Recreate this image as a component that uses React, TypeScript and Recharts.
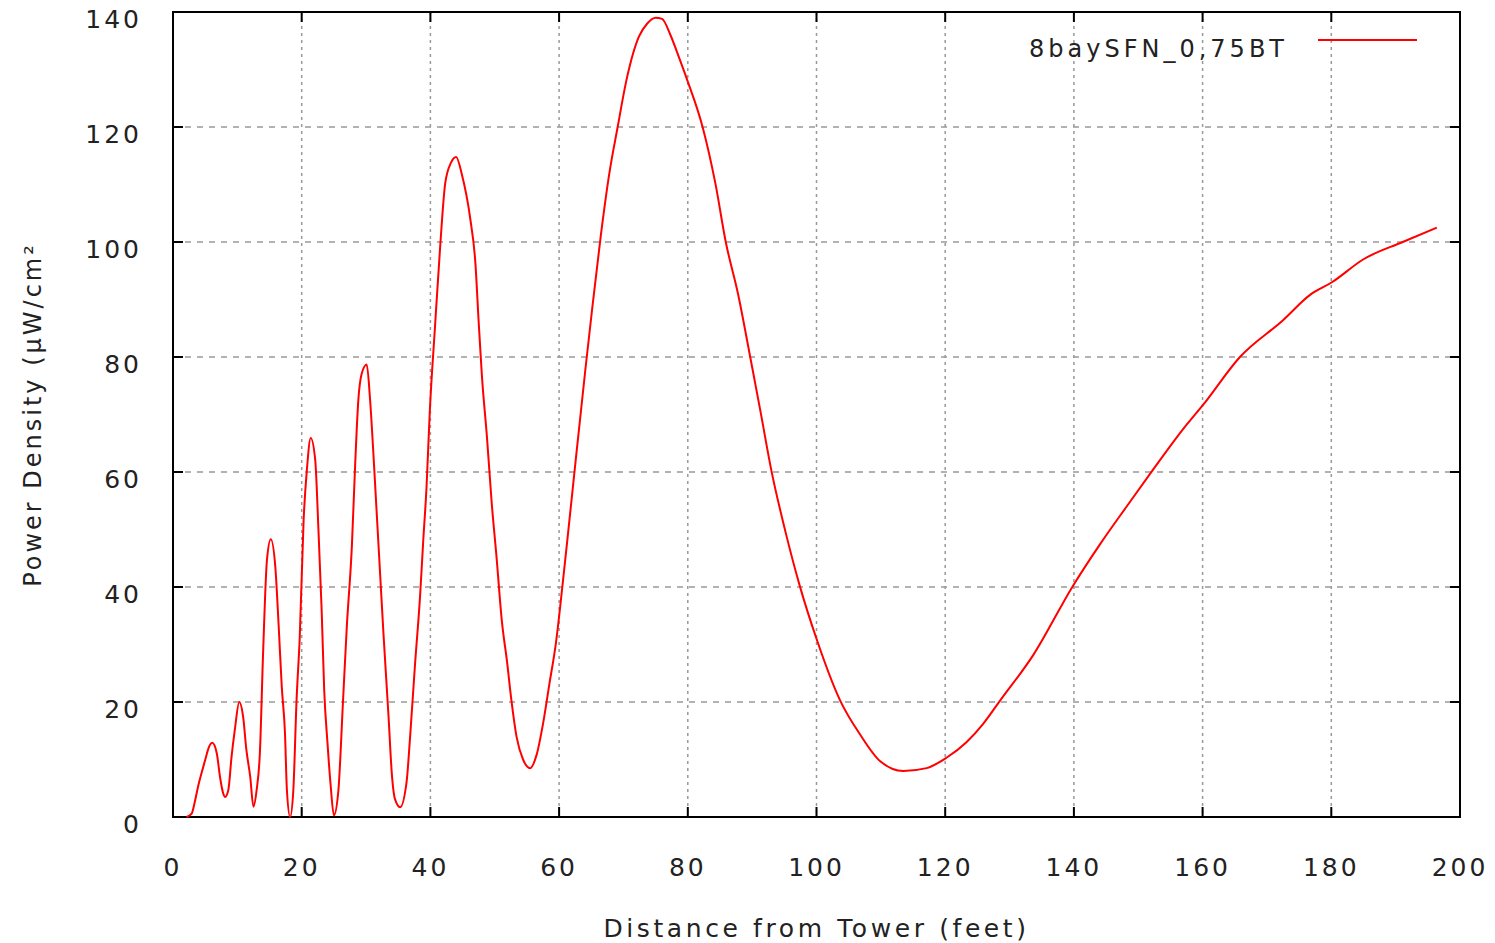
import React from "react";
import {
  LineChart,
  Line,
  XAxis,
  YAxis,
  CartesianGrid,
  ReferenceArea,
} from "recharts";

// distance from tower (feet) and power density
const distance = [
  2.1, 2.9, 3.4, 3.9, 4.5, 5.0, 5.5, 6.1, 6.8, 7.3, 7.8, 8.1, 8.6, 9.1, 9.6,
  10.3, 10.9, 11.4, 12.0, 12.5, 13.0, 13.5, 14.0, 14.6, 15.2, 15.9, 16.4, 16.9,
  17.4, 17.7, 18.2, 18.7, 19.2, 19.7, 20.3, 20.8, 21.4, 22.1, 22.6, 23.1, 23.5,
  24.0, 24.5, 25.0, 25.7, 26.4, 27.0, 27.8, 28.3, 28.8, 29.3, 30.1, 30.6, 31.1,
  31.6, 32.2, 32.7, 33.5, 34.0, 34.5, 35.3, 36.3, 36.8, 37.6, 38.4, 38.9, 39.4,
  39.9, 40.7, 41.5, 42.3, 43.2, 44.0, 44.9, 46.2, 47.0, 47.5, 48.0, 48.8, 49.5,
  50.3, 51.1, 51.9, 52.6, 53.4, 54.4, 55.5, 56.5, 57.5, 58.5, 59.5, 60.5, 61.5,
  62.6, 64.1, 65.1, 66.5, 67.8, 69.1, 70.4, 72.4, 73.7, 75.0, 76.0, 77.3, 78.6,
  79.9, 82.3, 84.3, 85.9, 87.8, 89.7, 91.3, 93.0, 95.2, 97.4, 100.0, 103.7,
  106.8, 109.9, 113.5, 117.1, 120.2, 123.3, 125.9, 128.5, 133.7, 139.8, 144.1,
  148.2, 152.3, 157.0, 160.1, 165.8, 172.5, 176.7, 180.1, 185.0, 191.1, 196.4,
];

const density = [
  0, 0.6, 2.7, 5.3, 7.9, 9.9, 11.9, 12.9, 11.1, 7.0, 4.1, 3.5, 4.7, 10.5, 15.1,
  20.0, 17.4, 11.7, 7.0, 1.8, 4.7, 11.1, 28.5, 44.7, 48.3, 43.5, 33.7, 22.7,
  14.6, 4.7, 0, 4.7, 20.3, 31.4, 51.7, 60.3, 65.9, 62.1, 50.0, 36.0, 22.0,
  13.0, 5.5, 0.3, 4.6, 19.7, 32.9, 47.2, 61.1, 72.5, 77.0, 78.7, 73.0, 64.0,
  54.0, 42.0, 32.0, 17.4, 7.6, 3.1, 1.7, 6.1, 13.2, 26.4, 38.5, 48.3, 57.4,
  70.4, 85.0, 98.9, 110.2, 113.8, 114.8, 111.7, 104.0, 96.2, 86.1, 76.8, 65.9,
  55.0, 44.9, 34.1, 27.1, 20.2, 13.9, 10.0, 8.5, 10.8, 16.2, 23.2, 30.2, 40.0,
  50.5, 62.3, 78.0, 88.0, 101.3, 111.9, 120.0, 127.8, 135.7, 138.0, 139.0,
  138.8, 136.0, 132.2, 128.2, 120.0, 110.1, 100.0, 91.0, 80.0, 70.5, 60.2,
  49.5, 40.2, 31.0, 20.2, 14.3, 9.7, 8.0, 8.5, 10.3, 13.0, 16.2, 20.2, 28.2,
  40.1, 47.5, 54.0, 60.4, 67.5, 71.7, 80.0, 86.4, 90.8, 93.0, 97.0, 100.0,
  102.5,
];

const xTicks = [0, 20, 40, 60, 80, 100, 120, 140, 160, 180, 200];
const yTicks = [0, 20, 40, 60, 80, 100, 120, 140];
const seriesName = "8baySFN_0,75BT";

const data = distance.map((d, i) => ({ distance: d, density: density[i] }));

const W = 1495;
const H = 943;
const LEFT = 173;
const RIGHT = 1460;
const TOP = 12;
const BOTTOM = 817;
const TICK = 10;
const FONT = "'DejaVu Sans', sans-serif";

function XTick(props: any) {
  const { x, payload } = props;
  return (
    <g>
      <line x1={x} x2={x} y1={BOTTOM} y2={BOTTOM - TICK} stroke="#000" strokeWidth={2} />
      <line x1={x} x2={x} y1={TOP} y2={TOP + TICK} stroke="#000" strokeWidth={2} />
      <text
        x={x}
        y={BOTTOM + 50}
        textAnchor="middle"
        dominantBaseline="central"
        fontFamily={FONT}
        fontSize={25}
        letterSpacing={3}
        fill="#222"
      >
        {payload.value}
      </text>
    </g>
  );
}

function YTick(props: any) {
  const { y, payload } = props;
  return (
    <g>
      <line x1={LEFT} x2={LEFT + TICK} y1={y} y2={y} stroke="#000" strokeWidth={2} />
      <line x1={RIGHT} x2={RIGHT - TICK} y1={y} y2={y} stroke="#000" strokeWidth={2} />
      <text
        x={LEFT - 31}
        y={y + 7}
        textAnchor="end"
        dominantBaseline="central"
        fontFamily={FONT}
        fontSize={25}
        letterSpacing={3}
        fill="#222"
      >
        {payload.value}
      </text>
    </g>
  );
}

function KeyBox() {
  return (
    <svg
      width={420}
      height={40}
      style={{ position: "absolute", left: 1000, top: 29 }}
    >
      <text
        x={288}
        y={20}
        textAnchor="end"
        dominantBaseline="central"
        fontFamily={FONT}
        fontSize={24}
        letterSpacing={4}
        fill="#222"
      >
        {seriesName}
      </text>
      <line x1={318} x2={417} y1={11} y2={11} stroke="#ff0000" strokeWidth={2} />
    </svg>
  );
}

export default function App() {
  return (
    <div style={{ position: "absolute", left: 0, top: 0, width: W, height: H, background: "#fff" }}>
      <LineChart
        width={W}
        height={H}
        data={data}
        margin={{ top: TOP, right: W - RIGHT, bottom: 0, left: 0 }}
      >
        <CartesianGrid
          horizontal={false}
          stroke="#999"
          strokeWidth={1.5}
          strokeDasharray="3 4"
        />
        <CartesianGrid
          vertical={false}
          stroke="#999"
          strokeWidth={1.5}
          strokeDasharray="6 6"
        />
        <XAxis
          type="number"
          dataKey="distance"
          domain={[0, 200]}
          ticks={xTicks}
          interval={0}
          height={H - BOTTOM}
          axisLine={false}
          tickLine={false}
          tick={<XTick />}
          label={{
            value: "Distance from Tower (feet)",
            position: "insideBottom",
            offset: 6,
            style: { fontFamily: FONT, fontSize: 25, letterSpacing: 3.6, fill: "#222" },
          }}
        />
        <YAxis
          type="number"
          domain={[0, 140]}
          ticks={yTicks}
          interval={0}
          width={LEFT}
          axisLine={false}
          tickLine={false}
          tick={<YTick />}
          label={{
            value: "Power Density (μW/cm²",
            angle: -90,
            position: "insideLeft",
            offset: 32,
            style: {
              fontFamily: FONT,
              fontSize: 24,
              letterSpacing: 3,
              fill: "#222",
              textAnchor: "middle",
            },
          }}
        />
        <Line
          type="monotone"
          dataKey="density"
          stroke="#ff0000"
          strokeWidth={2}
          dot={false}
          isAnimationActive={false}
        />
        <ReferenceArea
          x1={0}
          x2={200}
          y1={0}
          y2={140}
          fill="none"
          stroke="#000"
          strokeWidth={2}
          ifOverflow="visible"
        />
      </LineChart>
      <KeyBox />
    </div>
  );
}
